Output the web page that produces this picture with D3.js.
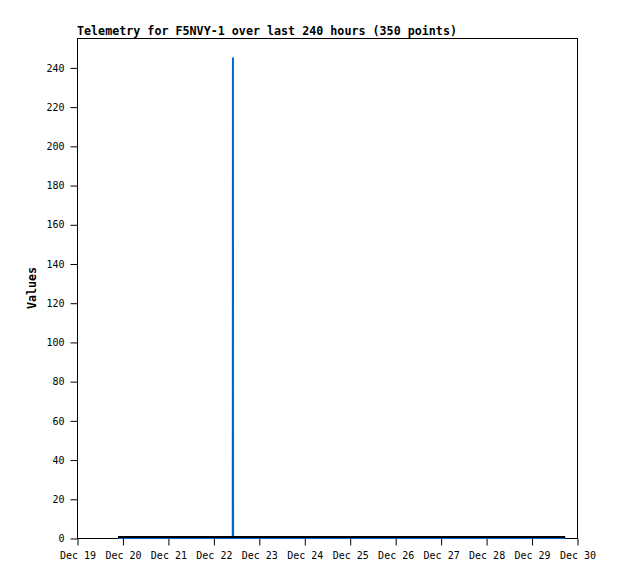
<!DOCTYPE html>
<html><head><meta charset="utf-8">
<script src="https://cdn.jsdelivr.net/npm/d3@7"></script>
<style>body{margin:0;background:#fff}</style>
</head><body>
<script>
const titleText = "Telemetry for F5NVY-1 over last 240 hours (350 points)";
const yLabel = "Values";
const xDomain = ["2023-12-19T00:00", "2023-12-30T00:00"];
const yDomain = [0, 255];
const yTicks = [0,20,40,60,80,100,120,140,160,180,200,220,240];
const blueTimes = ["2023-12-19T21:40","2023-12-22T10:15","2023-12-22T10:20","2023-12-22T10:25","2023-12-29T17:45"];
const blueValues = [0,0,245,0,0];
const blackTimes = ["2023-12-19T21:40","2023-12-29T17:45"];
const blackValues = [0,0];

const W=618,H=579, L=77,T=38,R=577,B=538;
const svg=d3.select("body").append("svg").attr("width",W).attr("height",H);
const parse=d3.timeParse("%Y-%m-%dT%H:%M");
const x=d3.scaleTime().domain(xDomain.map(parse)).range([L,R]);
const y=d3.scaleLinear().domain(yDomain).range([B,T]);

svg.append("rect").attr("x",L+0.5).attr("y",T+0.5).attr("width",R-L).attr("height",B-T)
  .attr("fill","none").attr("stroke","#000").attr("stroke-width",1);

const line=d3.line().x(d=>x(d[0])).y(d=>y(d[1]));
const blue=blueTimes.map((t,i)=>[parse(t),blueValues[i]]);
const black=blackTimes.map((t,i)=>[parse(t),blackValues[i]]);
svg.append("path").datum(blue).attr("d",line).attr("fill","none").attr("stroke","#0066cc").attr("stroke-width",2);
svg.append("path").datum(black).attr("d",line).attr("fill","none").attr("stroke","#000").attr("stroke-width",2).attr("transform","translate(0,-1)");

const ya=svg.append("g").attr("transform",`translate(${L+0.5},0.5)`)
  .call(d3.axisLeft(y).tickValues(yTicks).tickSize(7).tickPadding(6).tickSizeOuter(0));
ya.select(".domain").remove();
ya.selectAll("text").attr("font-family","DejaVu Sans Mono").attr("font-size","10px").attr("fill","#000");

const xa=svg.append("g").attr("transform",`translate(0.5,${B+0.5})`)
  .call(d3.axisBottom(x).ticks(d3.timeDay.every(1)).tickFormat(d3.timeFormat("%b %d")).tickSize(7).tickPadding(6).tickSizeOuter(0));
xa.select(".domain").remove();
xa.selectAll("text").attr("font-family","DejaVu Sans Mono").attr("font-size","10px").attr("fill","#000");

svg.append("text").attr("x",L).attr("y",35).text(titleText)
  .attr("font-family","DejaVu Sans Mono").attr("font-weight","bold").attr("font-size","11.7px");
svg.append("text").attr("transform",`translate(36,${(T+B)/2}) rotate(-90)`).attr("text-anchor","middle")
  .text(yLabel).attr("font-family","DejaVu Sans Mono").attr("font-weight","bold").attr("font-size","11.7px");
</script>
</body></html>
